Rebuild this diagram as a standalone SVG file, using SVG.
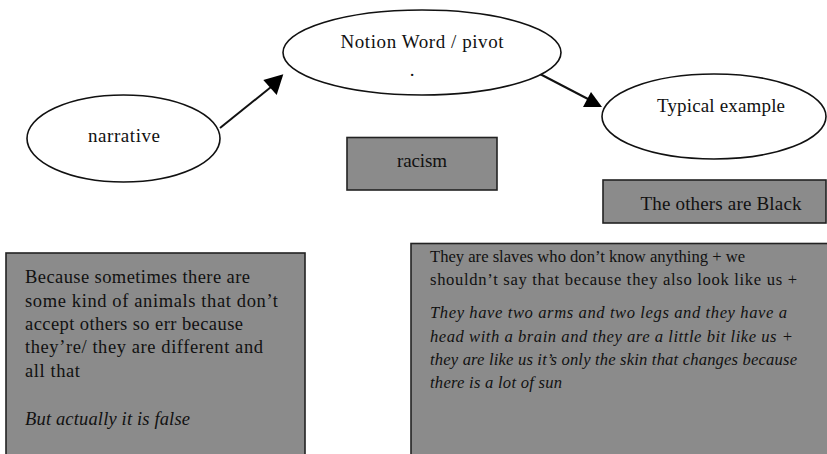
<svg xmlns="http://www.w3.org/2000/svg" width="827" height="454" viewBox="0 0 827 454">
<style>
.ell{fill:#fff;stroke:#111;stroke-width:1.6}
.box{fill:#8b8b8b;stroke:#222;stroke-width:1.6}
.t{font-family:"Liberation Serif","Times New Roman",serif;font-size:19px;fill:#111}
.b{font-family:"Liberation Serif","Times New Roman",serif;font-size:18.5px;fill:#111}
.r{font-family:"Liberation Serif","Times New Roman",serif;font-size:16.6px;fill:#111}
.i{font-style:italic}
.ln{stroke:#111;stroke-width:2;fill:none}
</style>
<rect width="827" height="454" fill="#fff"/>
<g id="connectors">
<line class="ln" x1="220" y1="128" x2="271" y2="87"/>
<polygon points="263.3,80 283.3,74.3 276.7,95" fill="#000"/>
<line class="ln" x1="540" y1="74" x2="588" y2="99"/>
<polygon points="583,107 591,92 602,107" fill="#000"/>
</g>
<g id="narrative">
<ellipse class="ell" cx="123.5" cy="138.5" rx="96.5" ry="43.5"/>
<text class="t" x="124" y="142" text-anchor="middle" textLength="72">narrative</text>
</g>
<g id="notion">
<ellipse class="ell" cx="422" cy="52.5" rx="139" ry="42.5"/>
<text class="t" x="422" y="48" text-anchor="middle" textLength="163">Notion Word / pivot</text>
<text class="t" x="412" y="76" text-anchor="middle">.</text>
</g>
<g id="typical">
<ellipse class="ell" cx="714" cy="116.5" rx="112" ry="42.5"/>
<text class="t" x="721" y="112" text-anchor="middle" textLength="128">Typical example</text>
</g>
<g id="racism">
<rect class="box" x="347" y="137.5" width="150" height="52.5"/>
<text class="t" x="422" y="167" text-anchor="middle" textLength="50">racism</text>
</g>
<g id="others">
<rect class="box" x="603" y="180" width="223" height="43"/>
<text class="t" x="721" y="210" text-anchor="middle" textLength="161">The others are Black</text>
</g>
<g id="left-quote">
<rect class="box" x="6" y="253" width="299" height="220"/>
<text class="b" x="25" y="283" textLength="225">Because sometimes there are</text>
<text class="b" x="25" y="307" textLength="253">some kind of animals that don’t</text>
<text class="b" x="25" y="330" textLength="218">accept others so err because</text>
<text class="b" x="25" y="353" textLength="238">they’re/ they are different and</text>
<text class="b" x="25" y="377" textLength="55">all that</text>
<text class="b i" x="25" y="425" textLength="165">But actually it is false</text>
</g>
<g id="right-quote">
<rect class="box" x="411" y="243.5" width="430" height="230"/>
<text class="r" x="430" y="262" textLength="315">They are slaves who don’t know anything + we</text>
<text class="r" x="430" y="285" textLength="367">shouldn’t say that because they also look like us +</text>
<text class="r i" x="430" y="318" textLength="357">They have two arms and two legs and they have a</text>
<text class="r i" x="430" y="342" textLength="363">head with a brain and they are a little bit like us +</text>
<text class="r i" x="430" y="365" textLength="367">they are like us it’s only the skin that changes because</text>
<text class="r i" x="430" y="388" textLength="132">there is a lot of sun</text>
</g>
</svg>
